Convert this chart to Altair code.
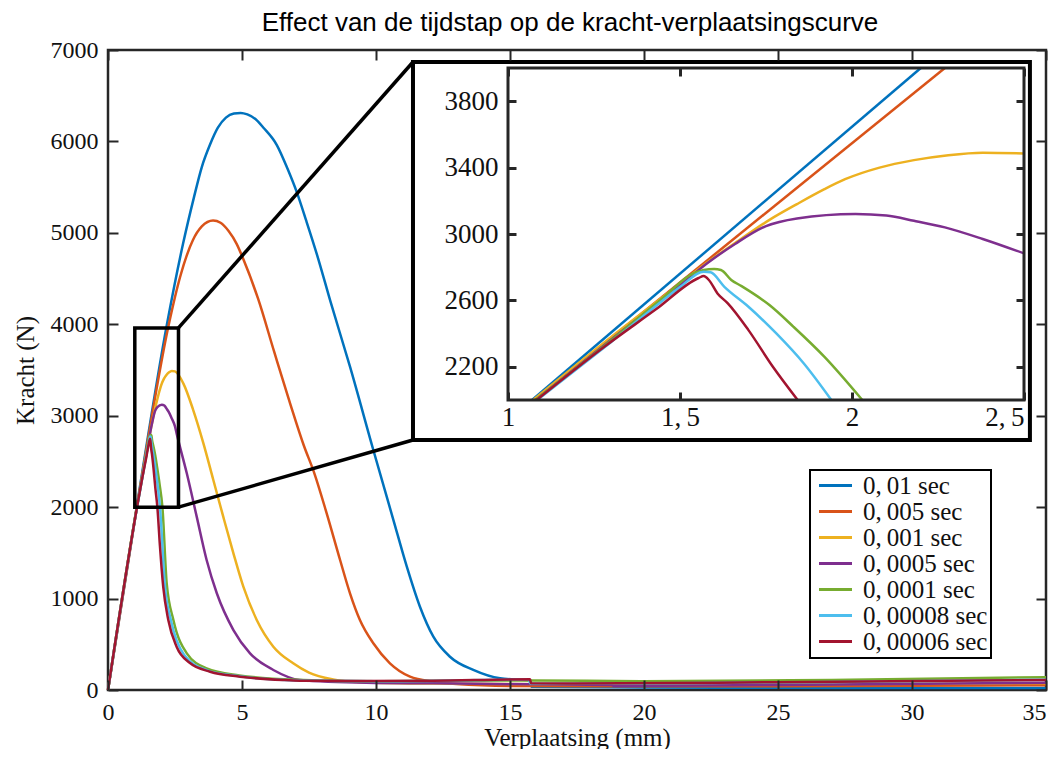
import altair as alt
import pandas as pd

# ---------------- data ----------------
series = ["0,\u200901 sec", "0,\u2009005 sec", "0,\u2009001 sec", "0,\u20090005 sec",
          "0,\u20090001 sec", "0,\u200900008 sec", "0,\u200900006 sec"]
colors = ["#0072BD", "#D95319", "#EDB120", "#7E2F8E", "#77AC30", "#4DBEEE", "#A2142F"]

blue_x = [0, 1.07, 2.2, 2.8, 3.2, 3.5, 3.8, 4.1, 4.4, 4.7, 4.95, 5.2, 5.5, 5.8, 6.3, 6.7, 7.05, 7.4,
          7.8, 8.3, 9.03, 9.9, 10.65, 11.15, 11.64, 12.14, 12.76, 13.63, 14.63, 15.62, 15.77, 15.8,
          20, 25, 30, 35]
blue_y = [0, 2000, 4000, 4880, 5380, 5720, 5960, 6150, 6260, 6305, 6312, 6295, 6245, 6150, 5960, 5700,
          5440, 5130, 4760, 4250, 3536, 2625, 1859, 1349, 911, 583, 364, 219, 128, 109, 105, 35,
          28, 24, 22, 22]

orange_x = [0, 1.078, 2.27, 2.69, 3.17, 3.5, 3.92, 4.2, 4.5, 4.8, 5.04, 5.6, 6.2, 6.8, 7.3, 7.7, 8.16,
            8.66, 9.03, 9.40, 9.90, 10.52, 11.27, 12.14, 13, 15, 20, 25, 30, 35]
orange_y = [0, 2000, 4000, 4517, 4922, 5070, 5135, 5110, 5020, 4880, 4720, 4280, 3700, 3130, 2680, 2370,
            1932, 1422, 1058, 766, 511, 292, 146, 91, 65, 45, 40, 42, 47, 52]

yellow_x = [0, 1.073, 1.3, 1.5, 1.58, 1.66, 1.76, 1.84, 1.92, 1.98, 2.08, 2.18, 2.28, 2.38, 2.5, 2.81,
            3.18, 3.56, 3.93, 4.30, 4.68, 5.05, 5.55, 6.17, 6.91, 7.5, 8.4, 9.4, 12, 20, 27, 35]
yellow_y = [0, 2000, 2380, 2700, 2830, 2945, 3085, 3180, 3270, 3330, 3400, 3445, 3475, 3490, 3485, 3354,
            3062, 2698, 2297, 1896, 1495, 1130, 766, 474, 292, 190, 115, 85, 70, 60, 65, 75]

purple_x = [0, 1.08, 1.3, 1.5, 1.58, 1.66, 1.75, 1.84, 2.01, 2.10, 2.18, 2.27, 2.38, 2.5, 2.56, 2.94,
            3.31, 3.68, 4.06, 4.68, 5.30, 6.17, 7.16, 9.65, 12.14, 15.75, 18.8, 18.85, 25, 35]
purple_y = [0, 2000, 2365, 2690, 2825, 2940, 3048, 3094, 3121, 3111, 3080, 3040, 2970, 2883, 2807, 2370,
            1896, 1422, 1058, 656, 401, 219, 110, 80, 73, 62, 55, 45, 55, 80]

green_x = [0, 1.08, 1.3, 1.45, 1.539, 1.599, 1.619, 1.649, 1.679, 1.76, 1.83, 1.92, 2.03, 2.19, 2.44,
           2.94, 3.68, 4.9, 7, 10, 15.75, 20, 27, 35]
green_y = [0, 2000, 2360, 2615, 2763, 2789, 2783, 2723, 2686, 2572, 2441, 2260, 2000, 1167, 766,
           401, 237, 160, 112, 95, 105, 95, 110, 140]

lblue_x = [0, 1.085, 1.3, 1.45, 1.5, 1.569, 1.589, 1.629, 1.699, 1.78, 1.86, 1.94, 2.12, 2.35, 2.85,
           3.7, 4.9, 7, 10, 15.7, 15.76, 20, 27, 35]
lblue_y = [0, 2000, 2350, 2600, 2680, 2773, 2769, 2682, 2562, 2401, 2220, 2000, 1150, 760, 380,
           215, 150, 105, 97, 113, 68, 72, 88, 112]

red_x = [0, 1.083, 1.28, 1.43, 1.554, 1.569, 1.584, 1.609, 1.639, 1.699, 1.77, 1.842, 1.94, 2.06, 2.25,
         2.56, 3.06, 3.81, 4.93, 6.53, 7.16, 9.65, 12.14, 15.75, 15.78, 17.4, 25, 35]
red_y = [0, 2000, 2321, 2546, 2735, 2747, 2723, 2642, 2582, 2421, 2200, 2000, 1567, 1130, 766,
         474, 295, 200, 146, 109, 102, 98, 102, 117, 73, 72, 85, 110]

xs = [blue_x, orange_x, yellow_x, purple_x, green_x, lblue_x, red_x]
ys = [blue_y, orange_y, yellow_y, purple_y, green_y, lblue_y, red_y]

main_x_ticks = [0, 5, 10, 15, 20, 25, 30, 35]
main_y_ticks = [0, 1000, 2000, 3000, 4000, 5000, 6000, 7000]
inset_x_domain = [1, 2.5]
inset_y_domain = [2000, 4000]
inset_x_ticks = [1, 1.5, 2, 2.5]
inset_y_ticks = [2200, 2600, 3000, 3400, 3800]

# annotation geometry, in main-axis data units
zoom_box = {"x": [1.0], "x2": [2.63], "y": [2000], "y2": [3960]}
inset_box = {"x": [11.38], "x2": [34.40], "y": [2734], "y2": [6869]}
connectors = {"x": [2.63, 2.63], "y": [3960, 2000], "x2": [11.38, 11.38], "y2": [6869, 2734]}

# ---------------- build tables ----------------
rows = []
for s, xx, yy in zip(series, xs, ys):
    for i, (a, b) in enumerate(zip(xx, yy)):
        rows.append({"series": s, "x": a, "y": b, "i": i})
df = pd.DataFrame(rows)

W, H = 938, 640
SERIF = "Liberation Serif"
FRAME = "#262626"

x_main = alt.Scale(domain=[0, 35], nice=False, zero=False)
y_main = alt.Scale(domain=[0, 7000], nice=False, zero=False)
color_scale = alt.Scale(domain=series, range=colors)

common = dict(domain=False, grid=False, tickColor=FRAME, labelFont=SERIF, labelColor="#111",
              titleFont=SERIF, titleFontWeight="normal", titleColor="#111", zindex=1,
              labelFlush=False, labelOverlap=False)

ax_mb = alt.Axis(orient="bottom", offset=-10, tickSize=10, tickWidth=2, values=main_x_ticks,
                 format="d", labelFontSize=24, labelPadding=10, title="Verplaatsing (mm)",
                 labelAlign={"expr": "datum.value >= 35 ? 'right' : 'center'"},
                 titleFontSize=25, titlePadding=1, **common)
ax_ml = alt.Axis(orient="left", offset=-10, tickSize=10, tickWidth=2, values=main_y_ticks,
                 format="d", labelFontSize=24, labelPadding=10, title="Kracht (N)",
                 titleFontSize=25, titlePadding=12, **common)
ax_mt = alt.Axis(orient="top", offset=-10, tickSize=10, tickWidth=2, values=main_x_ticks,
                 labels=False, title=None, **common)
ax_mr = alt.Axis(orient="right", offset=-10, tickSize=10, tickWidth=2, values=main_y_ticks,
                 labels=False, title=None, **common)

legend = alt.Legend(title=None, orient="none", legendX=702, legendY=420,
                    symbolType="M-3,0H3", symbolSize=121, symbolStrokeWidth=3,
                    symbolOffset=10, labelOffset=15, labelFont=SERIF, labelFontSize=25,
                    labelColor="#111", rowPadding=0, padding=3, strokeColor="#000",
                    fillColor="#ffffff", labelLimit=400)

main_lines = alt.Chart(df).mark_line(strokeWidth=2.5, interpolate="monotone").encode(
    x=alt.X("x:Q", scale=x_main, axis=ax_mb),
    y=alt.Y("y:Q", scale=y_main, axis=ax_ml),
    color=alt.Color("series:N", scale=color_scale, sort=series, legend=legend),
)
main_mirror = alt.Chart(df).mark_point(opacity=0).encode(
    x=alt.X("x:Q", scale=x_main, axis=ax_mt),
    y=alt.Y("y:Q", scale=y_main, axis=ax_mr),
)
zoom_rect = alt.Chart(pd.DataFrame(zoom_box)).mark_rect(
    fill="transparent", stroke="#000", strokeWidth=3.5).encode(
    x=alt.X("x:Q", scale=x_main, axis=None), x2="x2:Q",
    y=alt.Y("y:Q", scale=y_main, axis=None), y2="y2:Q")
conn = alt.Chart(pd.DataFrame(connectors)).mark_rule(color="#000", strokeWidth=3.5).encode(
    x=alt.X("x:Q", scale=x_main, axis=None), x2="x2:Q",
    y=alt.Y("y:Q", scale=y_main, axis=None), y2="y2:Q")
inset_bg = alt.Chart(pd.DataFrame(inset_box)).mark_rect(
    fill="#ffffff", stroke="#000", strokeWidth=4).encode(
    x=alt.X("x:Q", scale=x_main, axis=None), x2="x2:Q",
    y=alt.Y("y:Q", scale=y_main, axis=None), y2="y2:Q")

main_group = alt.layer(main_lines, main_mirror, zoom_rect, conn, inset_bg).resolve_axis(
    x="independent", y="independent")

# ---------------- inset ----------------
x_in = alt.Scale(domain=inset_x_domain, range=[400, 916], nice=False, zero=False)
y_in = alt.Scale(domain=inset_y_domain, range=[350, 18], nice=False, zero=False)

ax_ib = alt.Axis(orient="bottom", offset=-298, tickSize=8, tickWidth=3, values=inset_x_ticks,
                 labelFontSize=27, labelPadding=4, title=None,
                 labelExpr="replace(format(datum.value, '~g'), '.', ',\u2009')",
                 labelAlign={"expr": "datum.value >= 2.5 ? 'right' : 'center'"}, **common)
ax_il = alt.Axis(orient="left", offset=-408, tickSize=8, tickWidth=3, values=inset_y_ticks,
                 format="d", labelFontSize=27, labelPadding=10, title=None, **common)
ax_it = alt.Axis(orient="top", offset=-26, tickSize=8, tickWidth=3, values=inset_x_ticks,
                 labels=False, title=None, **common)
ax_ir = alt.Axis(orient="right", offset=-30, tickSize=8, tickWidth=3, values=inset_y_ticks,
                 labels=False, title=None, **common)

in_filter = ((alt.datum.x >= inset_x_domain[0]) & (alt.datum.x <= inset_x_domain[1]) &
             (alt.datum.y >= inset_y_domain[0]) & (alt.datum.y <= inset_y_domain[1]))

inset_lines = alt.Chart(df).transform_filter(in_filter).mark_line(
    strokeWidth=2.5, interpolate="monotone").encode(
    x=alt.X("x:Q", scale=x_in, axis=ax_ib),
    y=alt.Y("y:Q", scale=y_in, axis=ax_il),
    color=alt.Color("series:N", scale=color_scale, sort=series, legend=None),
)
inset_mirror = alt.Chart(df).transform_filter(in_filter).mark_point(opacity=0).encode(
    x=alt.X("x:Q", scale=x_in, axis=ax_it),
    y=alt.Y("y:Q", scale=y_in, axis=ax_ir),
)
frame_df = pd.DataFrame({"x": [inset_x_domain[0]], "x2": [inset_x_domain[1]],
                         "y": [inset_y_domain[0]], "y2": [inset_y_domain[1]]})
inset_frame = alt.Chart(frame_df).mark_rect(
    fill="transparent", stroke=FRAME, strokeWidth=3).encode(
    x=alt.X("x:Q", scale=x_in, axis=None), x2="x2:Q",
    y=alt.Y("y:Q", scale=y_in, axis=None), y2="y2:Q")

inset_group = alt.layer(inset_lines, inset_mirror, inset_frame).resolve_axis(
    x="independent", y="independent")

chart = alt.layer(main_group, inset_group).resolve_scale(
    x="independent", y="independent"
).properties(
    width=W, height=H,
    title=alt.TitleParams("Effect van de tijdstap op de kracht-verplaatsingscurve",
                          font="Liberation Sans", fontSize=26, fontWeight="normal",
                          color="#000", offset=2, anchor="middle", dx=-7),
    padding={"left": 100, "top": 42, "right": 6, "bottom": 59},
    autosize=alt.AutoSizeParams(type="none"),
).configure_view(stroke=FRAME, strokeWidth=2.5).configure_legend(strokeWidth=2)

chart.save("out.html", embed_options={"renderer": "svg", "actions": False})
